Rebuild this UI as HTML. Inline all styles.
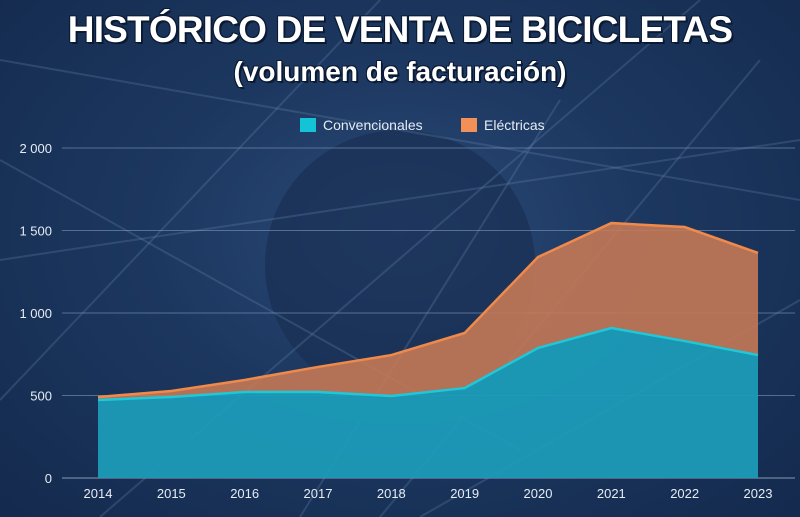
<!DOCTYPE html>
<html><head><meta charset="utf-8">
<style>
html,body{margin:0;padding:0;}
body{width:800px;height:517px;overflow:hidden;background:#1b3359;font-family:"Liberation Sans",sans-serif;}
#wrap{position:relative;width:800px;height:517px;background:radial-gradient(ellipse at 50% 45%,#2a4a78 0%,#1c375f 45%,#142a4e 100%);}
.t{position:absolute;left:0;width:800px;text-align:center;color:#fff;font-weight:bold;text-shadow:2px 2px 0 #0b1a33,-1px -1px 0 #0b1a33,1px -1px 0 #0b1a33,-1px 1px 0 #0b1a33;}
</style></head><body>
<div id="wrap">
<svg id="chart" width="800" height="517" style="position:absolute;left:0;top:0"></svg>
<div class="t" style="top:9px;font-size:37px;letter-spacing:-0.8px;">HISTÓRICO DE VENTA DE BICICLETAS</div>
<div class="t" style="top:56px;font-size:28px;">(volumen de facturación)</div>
</div>
<script>
const years=["2014","2015","2016","2017","2018","2019","2020","2021","2022","2023"];
const convencionales=[473,491,521,521,497,545,788,909,830,745];
const electricas=[18,36,73,152,248,334,551,636,691,619];
const yTicks=[0,500,1000,1500,2000];
const yTickLabels=["0","500","1 000","1 500","2 000"];
const NS="http://www.w3.org/2000/svg";
const svg=document.getElementById('chart');
const x0=98,x1=758,yb=478,yt=148,ymax=2000;
const X=i=>x0+(x1-x0)*i/(years.length-1);
const Y=v=>yb-(yb-yt)*v/ymax;
function el(t,a){const e=document.createElementNS(NS,t);for(const k in a)e.setAttribute(k,a[k]);svg.appendChild(e);return e;}
const gear=el('circle',{cx:400,cy:265,r:135,fill:'#1a2f52',opacity:0.7});


const spokes=[[0,60,800,200],[0,260,800,140],[100,517,700,0],[0,400,380,0],[300,517,560,100],[800,300,420,517],[0,160,520,450],[760,60,380,517]];
spokes.forEach(s=>{
 const l=el('line',{x1:s[0],y1:s[1],x2:s[2],y2:s[3],stroke:'#6f8fb8','stroke-width':2,opacity:0.25});
 
 
});
yTicks.forEach((v,i)=>{
 const g=el('line',{x1:62,x2:795,y1:Y(v),y2:Y(v),stroke:v===0?'#8fa6c4':'#7f97b8','stroke-width':1,opacity:v===0?0.9:0.6});
 
 
 const t=el('text',{x:52,y:Y(v)+5,fill:'#e6ecf4','font-size':13,'text-anchor':'end','font-family':'Liberation Sans'});
 t.textContent=yTickLabels[i];
 
 
});
years.forEach((yr,i)=>{
 const t=el('text',{x:X(i),y:498,fill:'#e6ecf4','font-size':13,'text-anchor':'middle','font-family':'Liberation Sans'});
 t.textContent=yr;
 
 
});
const tot=convencionales.map((c,i)=>c+electricas[i]);
let topPath='',botPath='';
years.forEach((_,i)=>{topPath+=(i?'L':'M')+X(i)+','+Y(tot[i]);});
for(let i=years.length-1;i>=0;i--)botPath+='L'+X(i)+','+Y(convencionales[i]);
const ea=el('path',{d:topPath+botPath+'Z',fill:'#c87a55',opacity:0.88});


let convPath='';
years.forEach((_,i)=>{convPath+=(i?'L':'M')+X(i)+','+Y(convencionales[i]);});
const ca=el('path',{d:convPath+'L'+X(years.length-1)+','+yb+'L'+X(0)+','+yb+'Z',fill:'#1b9bb7',opacity:0.95});


const el1=el('path',{d:topPath,fill:'none',stroke:'#f08a4b','stroke-width':2.5});


const cl1=el('path',{d:convPath,fill:'none',stroke:'#1fc8d8','stroke-width':2.5});


const lg=[['Convencionales','#15c3d6',300],['Eléctricas','#f29058',461]];
lg.forEach(l=>{
 const r=el('rect',{x:l[2],y:118,width:16,height:14,fill:l[1]});
 
 
 const t=el('text',{x:l[2]+23,y:130,fill:'#e6ecf4','font-size':14,'font-family':'Liberation Sans'});
 t.textContent=l[0];
 
 
});
</script>
</body></html>
